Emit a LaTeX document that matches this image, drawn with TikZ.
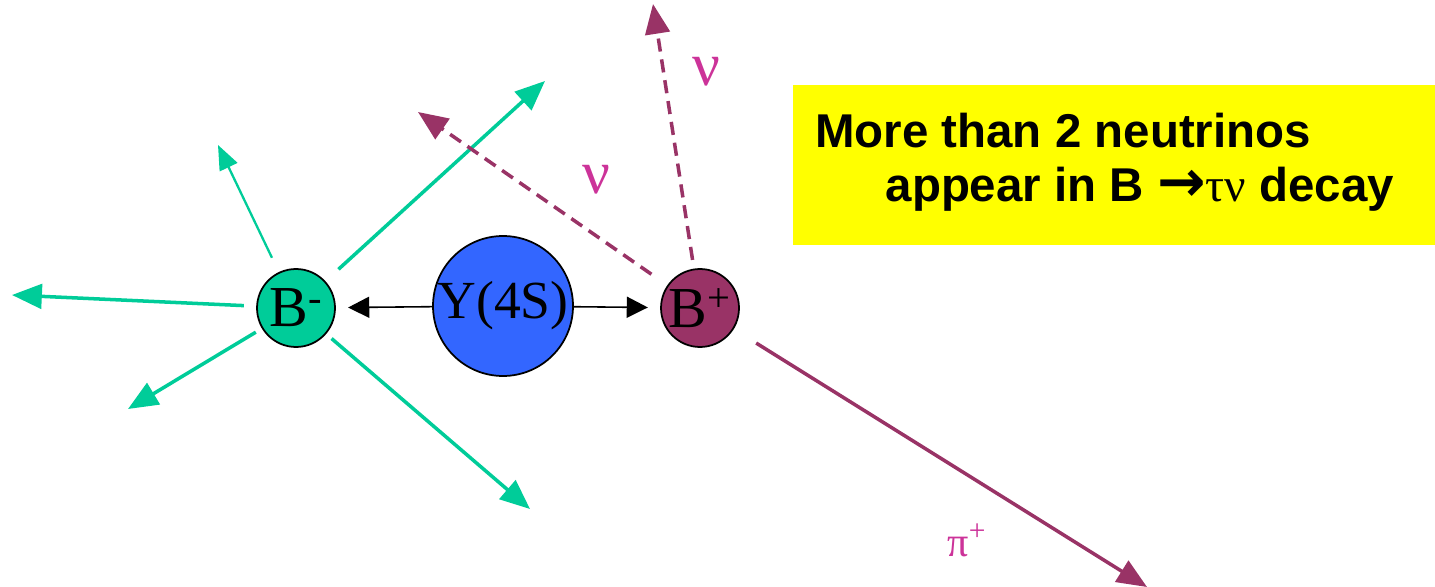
\documentclass[tikz,border=0pt]{standalone}
\usepackage{fontspec}
\setmainfont{Liberation Serif}
\setsansfont{Liberation Sans}
\newfontfamily\arrowfont{DejaVu Sans}
\usetikzlibrary{arrows.meta}
\definecolor{bgreen}{HTML}{00CC99}
\definecolor{bplus}{HTML}{993366}
\definecolor{upsblue}{HTML}{3366FF}
\definecolor{nulabel}{HTML}{CC3399}
\definecolor{noteyellow}{HTML}{FFFF00}

\tikzset{
  particle/.style={circle,draw=black,line width=1pt,inner sep=0pt,
    font=\fontsize{33}{33}\selectfont},
  boost/.style={-{Triangle[length=12pt,width=12pt]},line width=0.9pt,black},
  gtrack/.style={-{Triangle[length=17pt,width=14pt]},line width=2pt,bgreen},
  ptrack/.style={-{Triangle[length=17pt,width=14pt]},line width=2pt,bplus},
  nutrack/.style={ptrack,dash pattern=on 7.5pt off 4.5pt},
  lbl/.style={text=nulabel,inner sep=0pt},
  notebox/.style={fill=noteyellow,inner sep=0pt,anchor=north west}
}

\begin{document}
\begin{tikzpicture}[x=0.02cm,y=-0.02cm]
\useasboundingbox (0,0) rectangle (1435,587);
% ---- Y(4S) and the two B mesons ----
\node[particle,fill=upsblue,minimum size=2.8cm,font=\fontsize{30.5}{30.5}\selectfont] (ups) at (503,306) {Y(4S)};
\node[particle,fill=bgreen,minimum size=1.56cm] (bm) at (296,308) {B\textsuperscript{-}};
\node[particle,fill=bplus,minimum size=1.56cm] (bp) at (700,308) {B\textsuperscript{+}};
\draw[boost,shorten >=7pt] (ups) -- (bm);
\draw[boost,shorten >=7pt] (ups) -- (bp);
% ---- tag side: B- decay products ----
\coordinate (g1) at (218,145);
\coordinate (g2) at (12,295);
\coordinate (g3) at (128,409);
\coordinate (g4) at (530,509);
\coordinate (g5) at (545,81);
\draw[gtrack,line width=1.3pt,-{Triangle[length=14pt,width=11pt]},shorten <=9pt] (bm) -- (g1);
\draw[gtrack,shorten <=7pt] (bm) -- (g2);
\draw[gtrack,shorten <=4pt] (bm) -- (g3);
\draw[gtrack,shorten <=4pt] (bm) -- (g4);
\draw[gtrack,shorten <=10pt] (bm) -- (g5);
% ---- signal side: B+ -> tau nu, tau -> pi nu ----
\coordinate (nu1) at (418,112);
\coordinate (nu2) at (653,4);
\coordinate (pi) at (1147,587);
\draw[nutrack,shorten <=11pt] (bp) -- (nu1);
\draw[nutrack,shorten <=5pt] (bp) -- (nu2);
\draw[ptrack,shorten <=15pt] (bp) -- (pi);
\node[lbl,font=\fontsize{35}{35}\selectfont] (nulo) at (596,180) {ν};
\node[lbl,font=\fontsize{35}{35}\selectfont] (nuhi) at (706,72) {ν};
\node[lbl,font=\fontsize{24}{24}\selectfont] (pilbl) at (967,540) {π\textsuperscript{+}};
% ---- note ----
\node[notebox,minimum width=12.84cm,minimum height=3.2cm] (note) at (793,85) {};
\node[anchor=west,align=left,inner sep=0pt,font=\sffamily\bfseries\fontsize{27}{31}\selectfont]
  (notetext) at (815,162) {More than 2 neutrinos\\
  \hspace*{40pt}appear in B {\arrowfont\bfseries\fontsize{33}{31}\selectfont →}{\rmfamily\mdseries τν} decay};
\end{tikzpicture}
\end{document}
